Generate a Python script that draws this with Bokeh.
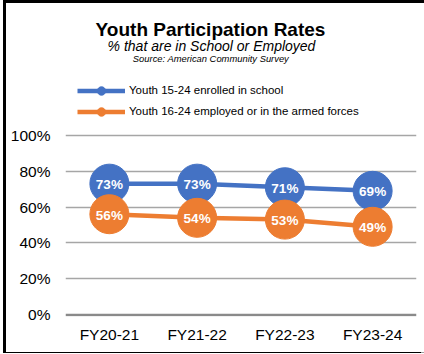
from bokeh.plotting import figure
from bokeh.layouts import column
from bokeh.models import (Range1d, FixedTicker, Span, Label, Legend, LegendItem,
                          ColumnDataSource)
from bokeh.embed import file_html
from bokeh.resources import INLINE
from bokeh.core.properties import value

# ---- data ----
categories = ["FY20-21", "FY21-22", "FY22-23", "FY23-24"]
school = [73, 73, 71, 69]
employed = [56, 54, 53, 49]
series_names = ["Youth 15-24 enrolled in school",
                "Youth 16-24 employed or in the armed forces"]
y_ticks = [0, 20, 40, 60, 80, 100]
title_text = "Youth Participation Rates"
subtitle_text = "% that are in School or Employed"
source_text = "Source: American Community Survey"

FONT = "Liberation Sans"
BLUE = "#4472C4"
ORANGE = "#ED7D31"

# ---- geometry (page pixels) ----
OFF_X, OFF_Y = 6, 3          # absolute offset of the canvas on the page
W, H = 418, 349
F_LEFT, F_RIGHT = 65, 416
F_TOP, F_BOT = OFF_Y, 316
G0, G100 = 314.4, 134.6      # page y of 0% and 100%
upp = 100.0 / (G0 - G100)
Y0 = -(F_BOT - G0) * upp
Y1 = 100 + (G100 - F_TOP) * upp
X0, X1 = -0.5, 3.5

def dx(sx):
    return X0 + (sx - F_LEFT) / (F_RIGHT - F_LEFT) * (X1 - X0)

def dy(sy):
    return Y0 + (F_BOT - sy) * upp

p = figure(width=W, height=H, output_backend="svg", toolbar_location=None,
           x_range=Range1d(X0, X1), y_range=Range1d(Y0, Y1),
           min_border_left=F_LEFT - OFF_X, min_border_right=W - (F_RIGHT - OFF_X),
           min_border_top=0, min_border_bottom=H - (F_BOT - OFF_Y),
           background_fill_color="white", border_fill_color="white")
p.outline_line_color = None

xs = list(range(len(categories)))
src_s = ColumnDataSource(dict(x=xs, y=school, t=[f"{v}%" for v in school]))
src_e = ColumnDataSource(dict(x=xs, y=employed, t=[f"{v}%" for v in employed]))

# axes
p.xaxis.ticker = FixedTicker(ticks=xs)
p.xaxis.major_label_overrides = {i: c for i, c in enumerate(categories)}
p.yaxis.ticker = FixedTicker(ticks=y_ticks)
p.yaxis.major_label_overrides = {t: f"{t}%" for t in y_ticks}
for ax in (p.xaxis, p.yaxis):
    ax.axis_line_color = None
    ax.major_tick_line_color = None
    ax.minor_tick_line_color = None
    ax.major_tick_out = 0
    ax.major_tick_in = 0
    ax.major_label_text_font = FONT
    ax.major_label_text_font_size = "15.5px"
    ax.major_label_text_color = "black"
p.xaxis.major_label_standoff = 9
p.yaxis.major_label_standoff = 15

p.xgrid.grid_line_color = None
p.ygrid.ticker = FixedTicker(ticks=y_ticks[1:])
p.ygrid.grid_line_color = "#a6a6a6"
p.ygrid.grid_line_width = 1.5
p.add_layout(Span(location=y_ticks[0], dimension="width", line_color="#8a8a8a", line_width=2.5))

# series
l1 = p.line("x", "y", source=src_s, line_color=BLUE, line_width=4.5)
c1 = p.scatter("x", "y", source=src_s, size=39, fill_color=BLUE, line_color=BLUE)
p.text("x", "y", text="t", source=src_s, text_color="white", text_font=value(FONT),
       text_font_style="bold", text_font_size="13.5px", text_align="center",
       text_baseline="middle", y_offset=1)
l2 = p.line("x", "y", source=src_e, line_color=ORANGE, line_width=4.5)
c2 = p.scatter("x", "y", source=src_e, size=39, fill_color=ORANGE, line_color=ORANGE)
p.text("x", "y", text="t", source=src_e, text_color="white", text_font=value(FONT),
       text_font_style="bold", text_font_size="13.5px", text_align="center",
       text_baseline="middle", y_offset=1)

legend = Legend(items=[LegendItem(label=series_names[0], renderers=[l1, c1]),
                       LegendItem(label=series_names[1], renderers=[l2, c2])],
                location=(12, F_BOT - 121.5), orientation="vertical",
                glyph_width=48, glyph_height=21, label_height=21, spacing=0,
                padding=0, margin=0, label_standoff=4,
                label_text_font=FONT, label_text_font_size="11.5px",
                label_text_color="black",
                background_fill_alpha=0, border_line_alpha=0)
p.add_layout(legend, "center")

# titles
p.add_layout(Label(x=dx(210), y=dy(28.5), text=title_text, text_font=FONT,
                   text_font_style="bold", text_font_size="19px", text_align="center",
                   text_baseline="alphabetic", text_color="black"))
p.add_layout(Label(x=dx(211), y=dy(45.5), text=subtitle_text, text_font=FONT,
                   text_font_style="italic", text_font_size="14px", text_align="center",
                   text_baseline="alphabetic", text_color="black"))
p.add_layout(Label(x=dx(210.5), y=dy(57.5), text=source_text, text_font=FONT,
                   text_font_style="italic", text_font_size="9.4px", text_align="center",
                   text_baseline="alphabetic", text_color="black"))

layout = column(p, width=W, height=H,
                styles={"position": "absolute", "left": f"{OFF_X}px", "top": f"{OFF_Y}px",
                        "box-shadow": "-3px -3px 0 0 black, 0 -3px 0 0 black, "
                                      "-3px 0 0 0 black, -3px 1px 0 0 black, "
                                      "0 1px 0 0 #a0a0a0"})

open("out.html", "w").write(file_html(layout, INLINE))
